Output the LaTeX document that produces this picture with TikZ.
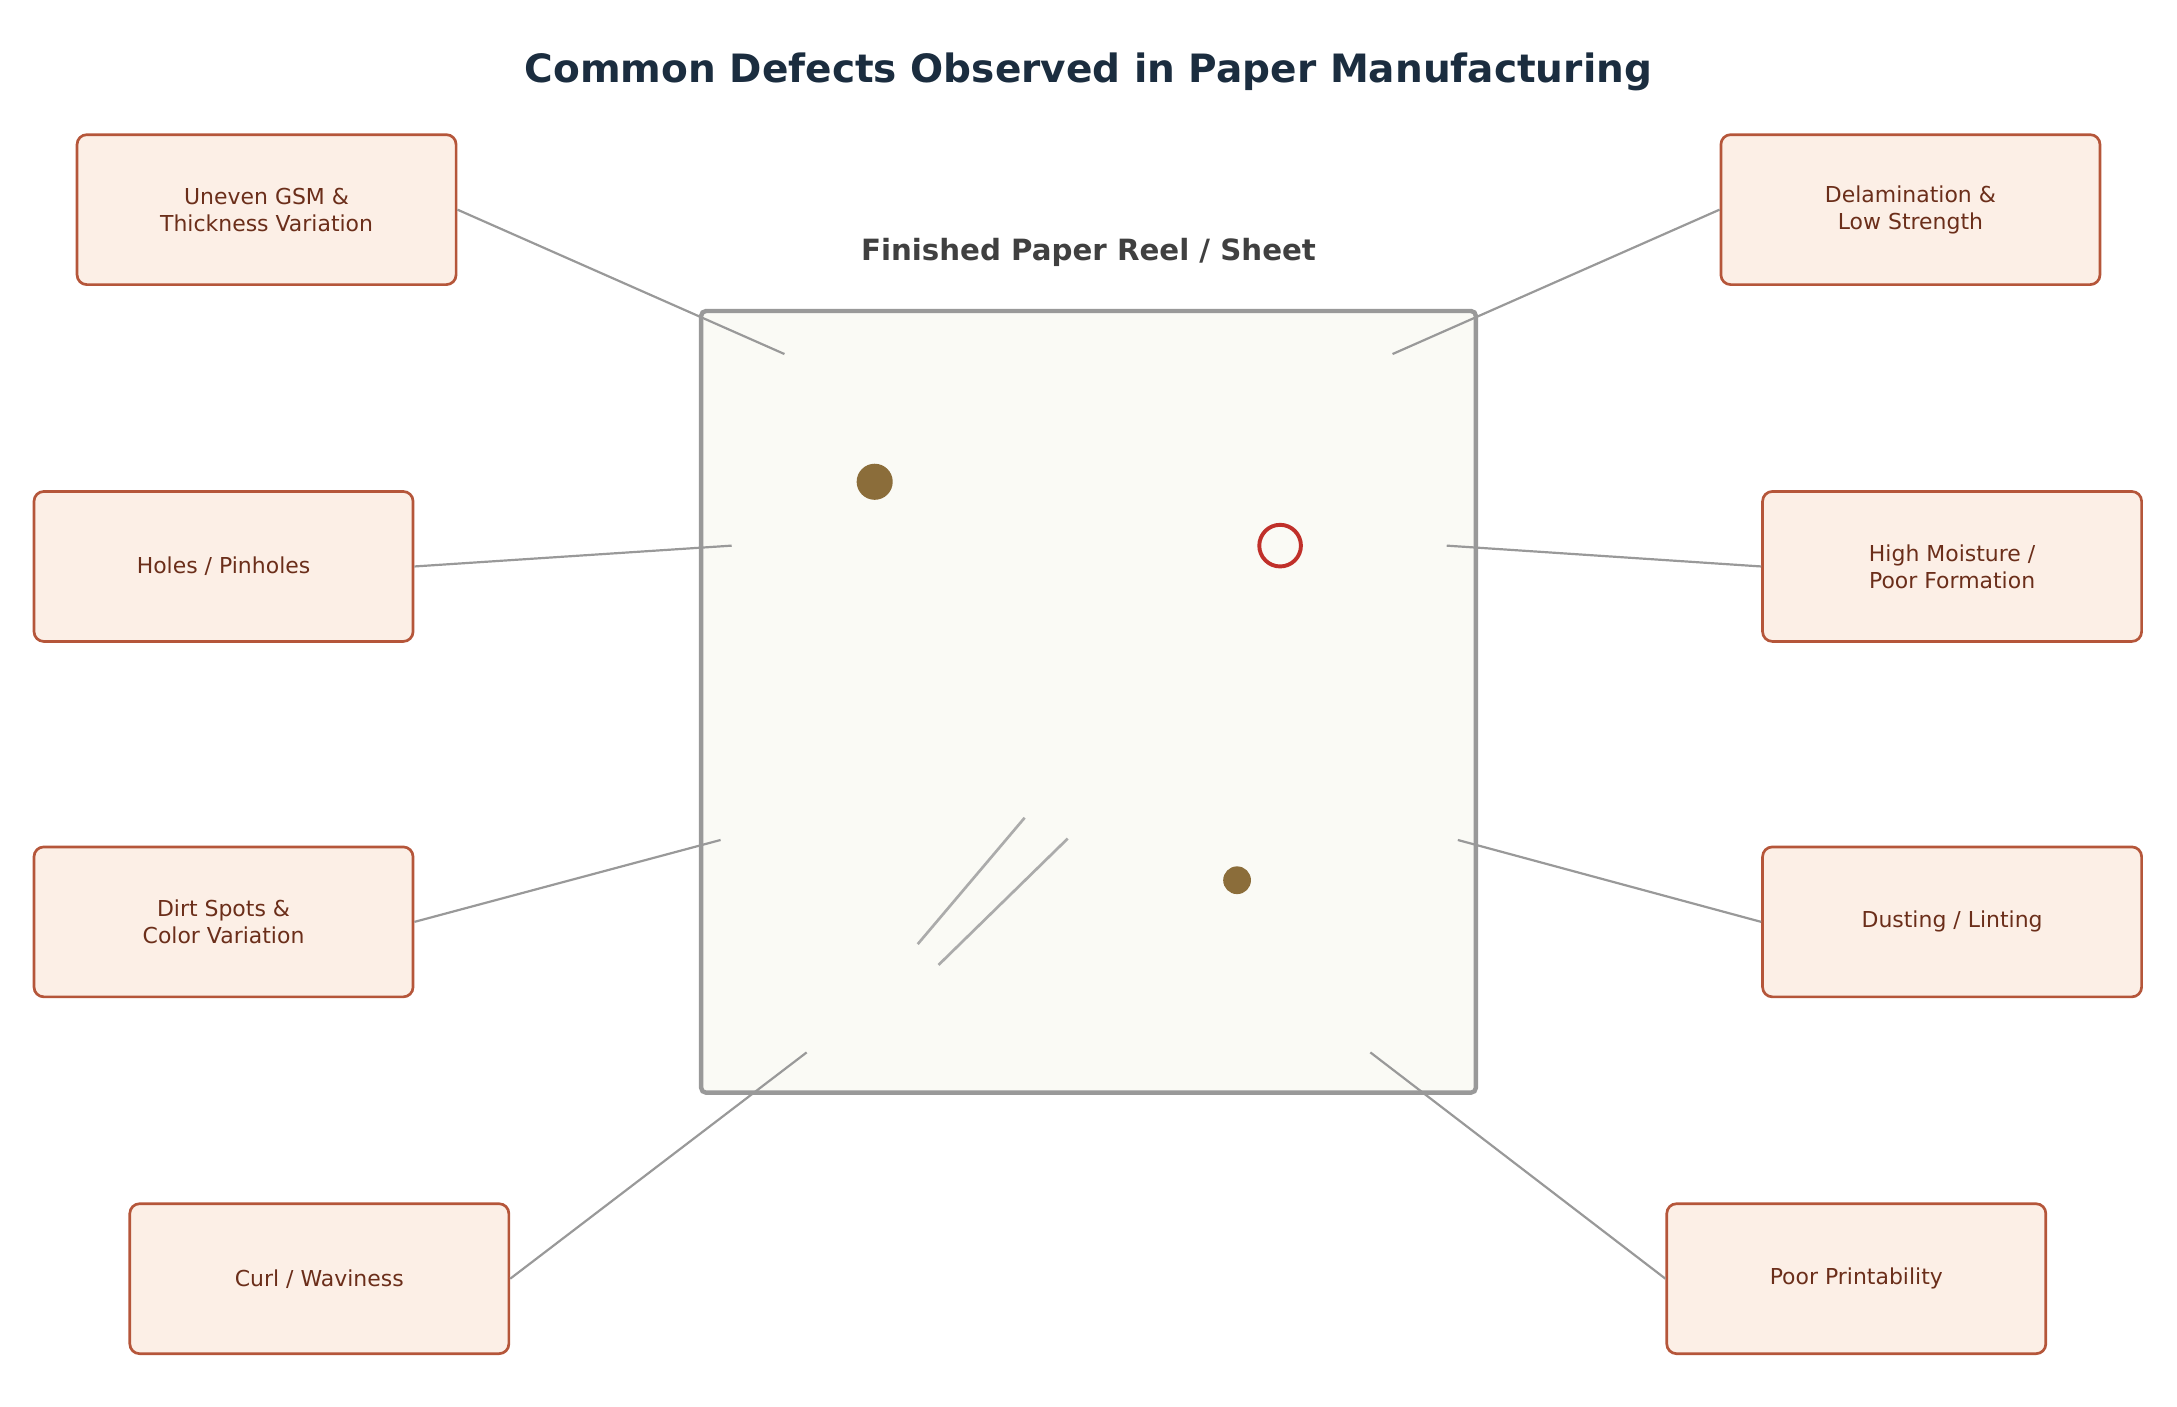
\documentclass[tikz,border=0pt]{standalone}
\usepackage{fontspec}
\setmainfont{DejaVu Sans}
\definecolor{boxfill}{HTML}{FCEFE6}
\definecolor{boxline}{HTML}{B5563A}
\definecolor{boxtext}{HTML}{6B2E1A}
\definecolor{titlecol}{HTML}{1B2D3F}
\definecolor{sheetfill}{HTML}{FAFAF5}
\definecolor{linkcol}{HTML}{999999}
\definecolor{dirtcol}{HTML}{8B6D3A}
\definecolor{holecol}{HTML}{C0302A}
\tikzset{
  defect/.style={draw=boxline, fill=boxfill, line width=1.1pt, rounded corners=4pt,
    minimum width=273*0.02cm, minimum height=108*0.02cm, align=center,
    font=\fontsize{9}{11}\selectfont, text=boxtext},
  link/.style={draw=linkcol, line width=0.9pt}
}
\begin{document}
\begin{tikzpicture}[x=0.02cm, y=-0.02cm]
  \useasboundingbox (0,0) rectangle (1568,1013);

  \node[font=\fontsize{16}{19}\selectfont\bfseries, text=titlecol] (title) at (784,52) {Common Defects Observed in Paper Manufacturing};
  \node[font=\fontsize{12}{14}\selectfont\bfseries, text=black!75] (sub) at (784,182) {Finished Paper Reel / Sheet};

  % the sheet
  \draw[draw=linkcol, fill=sheetfill, line width=1.8pt, rounded corners=2pt] (505,224) rectangle (1063,787);
  \fill[dirtcol] (630,347) circle (13);
  \fill[dirtcol] (891,634) circle (10);
  \draw[holecol, line width=1.6pt] (922,393) circle (15);
  \draw[black!33, line width=1.1pt] (661,680) -- (738,589);
  \draw[black!33, line width=1.1pt] (676,695) -- (769,604);

  % defect boxes
  \node[defect] (gsm) at (192,151) {Uneven GSM \&\\Thickness Variation};
  \node[defect] (holes) at (161,408) {Holes / Pinholes};
  \node[defect] (dirt) at (161,664) {Dirt Spots \&\\Color Variation};
  \node[defect] (curl) at (230,921) {Curl / Waviness};
  \node[defect] (delam) at (1376,151) {Delamination \&\\Low Strength};
  \node[defect] (moist) at (1406,408) {High Moisture /\\Poor Formation};
  \node[defect] (dust) at (1406,664) {Dusting / Linting};
  \node[defect] (print) at (1337,921) {Poor Printability};

  % points on the sheet
  \coordinate (pgsm) at (565,255);
  \coordinate (pholes) at (527,393);
  \coordinate (pdirt) at (519,605);
  \coordinate (pcurl) at (581,758);
  \coordinate (pdelam) at (1003,255);
  \coordinate (pmoist) at (1042,393);
  \coordinate (pdust) at (1050,605);
  \coordinate (pprint) at (987,758);

  \draw[link] (gsm.east) -- (pgsm);
  \draw[link] (holes.east) -- (pholes);
  \draw[link] (dirt.east) -- (pdirt);
  \draw[link] (curl.east) -- (pcurl);
  \draw[link] (delam.west) -- (pdelam);
  \draw[link] (moist.west) -- (pmoist);
  \draw[link] (dust.west) -- (pdust);
  \draw[link] (print.west) -- (pprint);
\end{tikzpicture}
\end{document}
